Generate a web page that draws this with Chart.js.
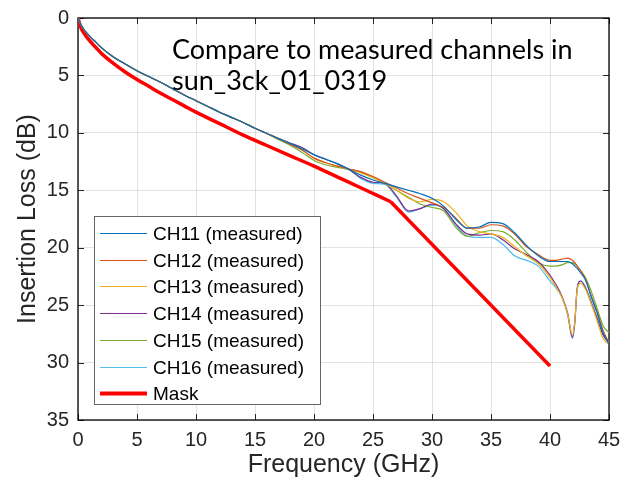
<!DOCTYPE html>
<html lang="en">

<head>
    <meta charset="UTF-8">
    <title>Insertion Loss</title>
    <script src="https://cdn.jsdelivr.net/npm/chart.js"></script>
    <style>
        body {
            margin: 0;
            background: #fff;
        }
    </style>
</head>

<body>
    <canvas id="canvas" width="621" height="489"></canvas>

    <script>
        // frequency grid (GHz) shared by the measured channels
        const freq = [0, 0.25, 0.5, 1, 1.5, 2, 3, 4, 5, 6, 7, 8, 9, 10, 11, 12, 13, 14, 15, 16,
            17, 18, 19, 20, 21, 22, 23, 24, 25, 26, 27, 28, 29, 30, 31, 32, 33, 34, 35, 36, 37, 38, 39, 40,
            40.5, 41, 41.5, 41.9, 42.1, 42.3, 42.6, 43, 43.5, 44, 44.5, 45]

        // below 17 GHz all six channels sit on top of each other
        const common = [0, 0.6, 1.0, 1.6, 2.1, 2.6, 3.4, 4.0, 4.6, 5.1, 5.6, 6.15, 6.7, 7.2, 7.7, 8.2, 8.65, 9.1, 9.6, 10.05]

        const ch11 = common.concat([10.5, 10.95, 11.4, 11.9, 12.3, 12.7, 13.2, 13.7, 14.1, 14.4, 14.7, 15.0, 15.3, 15.7, 16.4, 17.5, 18.3, 18.2, 17.8, 17.9, 18.7, 19.8, 20.7, 21.2,
            21.2, 21.2, 21.2, 21.4, 21.6, 21.8, 22.2, 22.8, 24.3, 25.7, 27.4, 28.4])
        const ch12 = common.concat([10.5, 11.0, 11.5, 12.2, 12.6, 12.9, 13.15, 13.4, 13.8, 14.3, 14.8, 15.3, 15.7, 16.1, 16.5, 17.4, 18.3, 18.3, 18.0, 18.1, 18.8, 19.9, 20.6, 21.1,
            21.1, 21.0, 20.9, 21.1, 21.3, 21.6, 22.0, 22.7, 24.2, 25.6, 27.2, 28.3])
        const ch13 = common.concat([10.5, 11.0, 11.5, 12.2, 12.6, 12.9, 13.2, 13.5, 13.9, 14.4, 15.0, 15.7, 16.0, 15.8, 16.0, 16.9, 18.1, 18.6, 18.8, 19.1, 19.9, 20.7, 21.4, 22.6,
            23.4, 24.3, 25.8, 27.6, 26.4, 23.7, 23.1, 23.6, 24.9, 26.4, 27.9, 28.4])
        const ch14 = common.concat([10.5, 10.9, 11.3, 11.9, 12.3, 12.7, 13.2, 13.9, 14.3, 14.4, 15.5, 16.8, 16.6, 16.2, 16.6, 17.9, 18.8, 18.9, 18.8, 19.3, 20.1, 20.6, 21.2, 22.4,
            23.2, 24.2, 25.7, 27.8, 26.5, 23.6, 22.9, 23.5, 24.8, 26.2, 27.6, 28.3])
        const ch15 = common.concat([10.6, 11.1, 11.7, 12.4, 12.8, 13.0, 13.2, 13.4, 13.9, 14.4, 15.0, 15.6, 16.2, 16.5, 16.8, 18.2, 19.0, 18.7, 18.5, 18.6, 19.3, 20.4, 21.3, 21.6,
            21.6, 21.5, 21.3, 21.3, 21.4, 21.6, 22.0, 22.6, 23.8, 25.3, 26.8, 27.4])
        const ch16 = common.concat([10.5, 10.9, 11.3, 11.9, 12.3, 12.7, 13.2, 14.0, 14.4, 14.5, 15.6, 16.9, 16.6, 16.3, 16.6, 18.0, 19.0, 19.1, 19.1, 19.7, 20.7, 21.1, 21.6, 22.9,
            23.5, 24.3, 25.9, 27.9, 26.6, 23.5, 22.9, 23.4, 24.7, 26.1, 27.5, 28.2])

        // mask: curved part up to the knee at 26.5 GHz, then a straight line to 40 GHz
        const maskFreq = [0, 0.25, 0.5, 1, 1.5, 2, 3, 4, 5, 6, 7, 8, 9, 10, 12, 14, 16, 18, 20, 22, 24, 26.5, 40]
        const maskLoss = [0, 0.85, 1.3, 2.0, 2.55, 3.1, 3.95, 4.7, 5.35, 5.95, 6.55, 7.1, 7.65, 8.2, 9.2, 10.2, 11.1, 12.0, 12.9, 13.85, 14.8, 16.0, 30.3]
        const maskKnee = 26.5

        const channelNames = ['CH11 (measured)', 'CH12 (measured)', 'CH13 (measured)', 'CH14 (measured)', 'CH15 (measured)', 'CH16 (measured)']
        const channelColors = ['#0072BD', '#D95319', '#EDB120', '#7E2F8E', '#77AC30', '#4DBEEE']
        const channels = [ch11, ch12, ch13, ch14, ch15, ch16]

        const note = ['Compare to measured channels in', 'sun_3ck_01_0319']

        const axisColor = '#262626'
        const tickFont = { family: 'Liberation Sans', size: 20 }

        function toPoints(xs, ys) {
            return xs.map((x, i) => ({ x: x, y: ys[i] }))
        }

        let datasets = channels.map((ys, i) => ({
            label: channelNames[i],
            data: toPoints(freq, ys),
            borderColor: channelColors[i],
            borderWidth: 1.2,
            pointRadius: 0,
            cubicInterpolationMode: 'monotone'
        }))
        const maskPts = toPoints(maskFreq, maskLoss)
        const k = maskFreq.indexOf(maskKnee)
        datasets.push({
            label: 'Mask',
            data: maskPts.slice(0, k + 1),
            borderColor: '#FF0000',
            borderWidth: 3.5,
            pointRadius: 0,
            cubicInterpolationMode: 'monotone'
        })
        datasets.push({
            label: '',
            data: maskPts.slice(k),
            borderColor: '#FF0000',
            borderWidth: 3.5,
            borderJoinStyle: 'round',
            pointRadius: 0,
            tension: 0
        })

        // box round the axes with inward ticks, matlab style
        const boxPlugin = {
            id: 'box',
            beforeDatasetsDraw(chart) {
                const c = chart.ctx
                const a = chart.chartArea
                const sx = chart.scales.x
                const sy = chart.scales.y
                c.save()
                c.strokeStyle = axisColor
                c.lineWidth = 1
                c.beginPath()
                sx.ticks.forEach(t => {
                    const px = Math.round(sx.getPixelForValue(t.value)) + 0.5
                    c.moveTo(px, a.bottom); c.lineTo(px, a.bottom - 6)
                    c.moveTo(px, a.top); c.lineTo(px, a.top + 6)
                })
                sy.ticks.forEach(t => {
                    const py = Math.round(sy.getPixelForValue(t.value)) + 0.5
                    c.moveTo(a.left, py); c.lineTo(a.left + 6, py)
                    c.moveTo(a.right, py); c.lineTo(a.right - 6, py)
                })
                c.stroke()
                c.strokeStyle = '#000'
                c.lineWidth = 1.3
                c.strokeRect(a.left, a.top, a.right - a.left, a.bottom - a.top)
                c.restore()
            },
            afterDraw(chart) {
                const c = chart.ctx
                c.save()
                // annotation
                c.fillStyle = '#000'
                c.font = '27px Lato'
                c.textBaseline = 'alphabetic'
                c.textAlign = 'left'
                c.fillText(note[0], 172, 59)
                c.fillText(note[1], 172, 90)

                // legend
                const lx = 94.5, ly = 216.5, lw = 226, lh = 188
                c.fillStyle = '#fff'
                c.fillRect(lx, ly, lw, lh)
                c.strokeStyle = '#666'
                c.lineWidth = 1
                c.strokeRect(lx, ly, lw, lh)
                c.font = '19px Liberation Sans'
                c.textBaseline = 'middle'
                chart.data.datasets.filter(ds => ds.label).forEach((ds, i) => {
                    const y = Math.round(233 + i * 26.7) + 0.5
                    c.strokeStyle = ds.borderColor
                    c.lineWidth = ds.borderWidth > 2 ? 4 : 1
                    c.beginPath()
                    c.moveTo(100, y); c.lineTo(147, y)
                    c.stroke()
                    c.fillStyle = '#000'
                    c.fillText(ds.label, 153, y + 1)
                })
                c.restore()
            }
        }

        const ctx = document.getElementById('canvas')
        const graph = new Chart(ctx, {
            type: 'line',
            data: { datasets: datasets },
            plugins: [boxPlugin],
            options: {
                responsive: false,
                animation: false,
                devicePixelRatio: 1,
                layout: { padding: { left: 0, top: 18, right: 12, bottom: 0 } },
                plugins: {
                    legend: { display: false },
                    tooltip: { enabled: false }
                },
                scales: {
                    x: {
                        type: 'linear',
                        min: 0,
                        max: 45,
                        afterFit(scale) {
                            scale.height = 69
                            scale.paddingLeft = 0
                            scale.paddingRight = 0
                        },
                        ticks: { stepSize: 5, color: axisColor, font: tickFont, padding: 8, maxRotation: 0 },
                        grid: { color: 'rgba(38,38,38,0.13)', drawTicks: false },
                        border: { display: false },
                        title: {
                            display: true,
                            text: 'Frequency (GHz)',
                            color: axisColor,
                            font: { family: 'Liberation Sans', size: 25 },
                            padding: { top: 0, bottom: 9 }
                        }
                    },
                    y: {
                        type: 'linear',
                        reverse: true,
                        min: 0,
                        max: 35,
                        afterFit(scale) {
                            scale.width = 78
                            scale.paddingTop = 0
                            scale.paddingBottom = 0
                        },
                        ticks: { stepSize: 5, color: axisColor, font: tickFont, padding: 9 },
                        grid: { color: 'rgba(38,38,38,0.13)', drawTicks: false },
                        border: { display: false },
                        title: {
                            display: true,
                            text: 'Insertion Loss (dB)',
                            color: axisColor,
                            font: { family: 'Liberation Sans', size: 25 },
                            padding: { top: 13, bottom: 0 }
                        }
                    }
                }
            }
        })
    </script>

</body>

</html>
